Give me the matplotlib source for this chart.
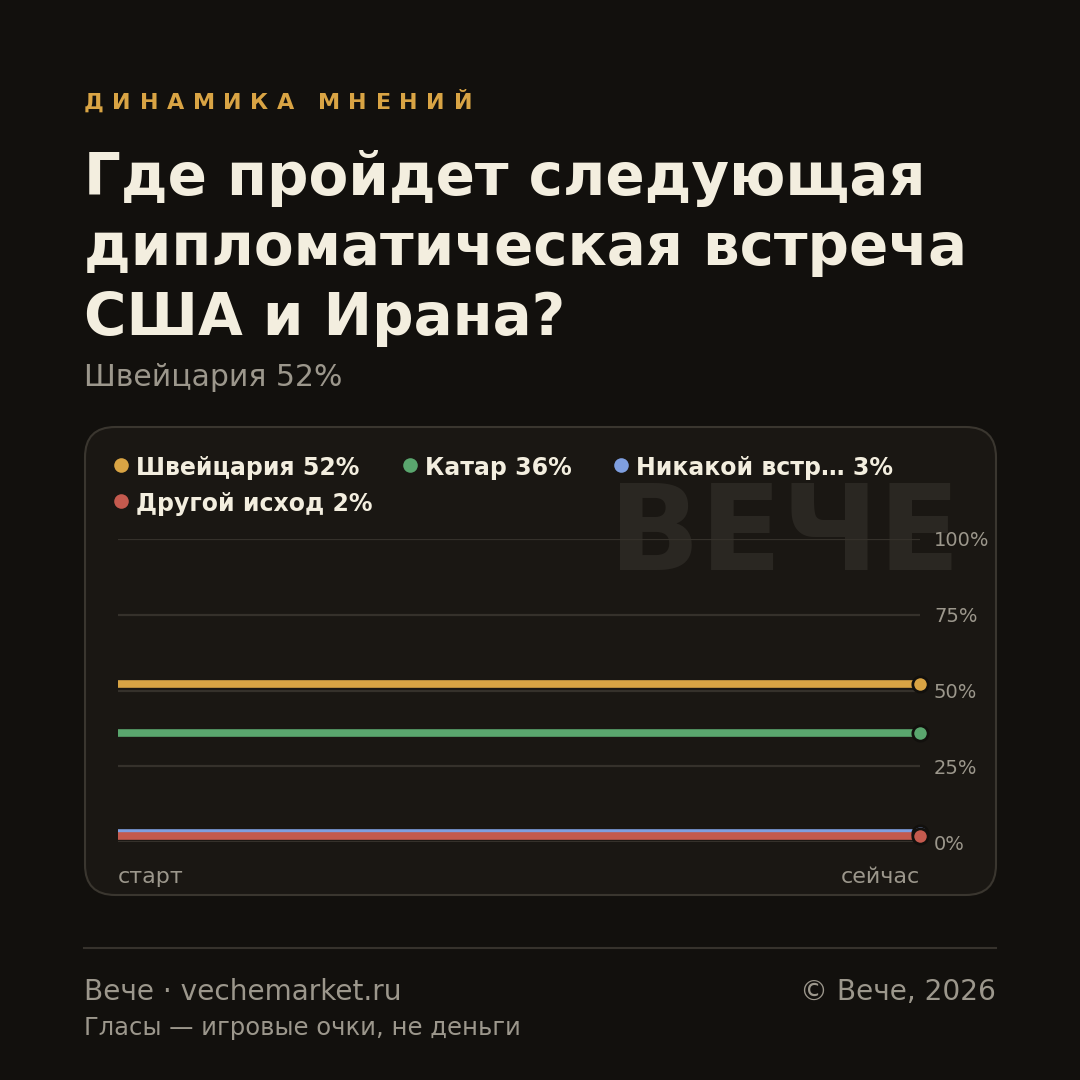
import matplotlib.pyplot as plt
from matplotlib.patches import FancyBboxPatch
from matplotlib.lines import Line2D

# --- data ---
labels = ["Швейцария", "Катар", "Никакой встр…", "Другой исход"]
values_start = [52, 36, 3, 2]
values_now = [52, 36, 3, 2]
colors = ["#d9a444", "#5aa66e", "#7f9fe0", "#c45a4e"]
x_labels = ["старт", "сейчас"]
y_ticks = [0, 25, 50, 75, 100]

BG = "#12100d"
PANEL = "#1a1713"
GRID = "#35312b"
GRAY = "#9c978c"
CREAM = "#f3eedf"
GOLD = "#d9a444"

W = H = 1080
fig = plt.figure(figsize=(10.8, 10.8), dpi=100, facecolor=BG)
plt.rcParams['font.family'] = ['DejaVu Sans']


def fy(y):
    # pixel y from top -> figure fraction
    return 1 - y / H


def fx(x):
    return x / W


# kicker with letter spacing
kicker = "ДИНАМИКА МНЕНИЙ"
renderer = fig.canvas.get_renderer()
chars = []
natural = 0
space_w = 6
for ch in kicker:
    if ch == " ":
        chars.append((ch, None, space_w))
        natural += space_w
        continue
    t = fig.text(0, 0, ch, color=GOLD, fontsize=16, fontweight='bold', ha='left', va='baseline')
    w = t.get_window_extent(renderer=renderer).width
    chars.append((ch, t, w))
    natural += w
tracking = (472 - 84 - natural) / (len(kicker) - 1)
x = 84
for ch, t, w in chars:
    if t is not None:
        t.set_position((fx(x), fy(109)))
    x += w + tracking

# title
title_lines = ["Где пройдет следующая", "дипломатическая встреча", "США и Ирана?"]
for i, line in enumerate(title_lines):
    fig.text(fx(84), fy(195 + 70 * i), line, color=CREAM, fontsize=41.7, fontweight='bold', ha='left', va='baseline')

fig.text(fx(84), fy(386), f"{labels[0]} {values_now[0]}%", color=GRAY, fontsize=21.5, ha='left', va='baseline')

# panel
panel = FancyBboxPatch((fx(85) + 0.028, fy(895) + 0.028), fx(996 - 85) - 0.056, (895 - 427) / H - 0.056,
                       boxstyle="round,pad=0.028", transform=fig.transFigure,
                       facecolor=PANEL, edgecolor="#3a362f", linewidth=1.5, zorder=0)
fig.patches.append(panel)

# watermark
fig.text(fx(960), fy(570), "ВЕЧЕ", color="#2a2722", fontsize=86, fontweight='bold', ha='right', va='baseline', zorder=1)

# legend
legend_pos = [(121, 465), (410, 465), (621, 465), (121, 501)]
for (lx, ly), lab, v, c in zip(legend_pos, labels, values_now, colors):
    fig.add_artist(Line2D([fx(lx)], [fy(ly)], marker='o', markersize=10.5, color=c, markeredgewidth=0,
                          transform=fig.transFigure))
    fig.text(fx(lx + 15), fy(ly), f"{lab} {v}%", color=CREAM, fontsize=17, fontweight='bold', ha='left', va='center_baseline')

# axes
ax = fig.add_axes([fx(118), fy(842), fx(920 - 118), (842 - 539) / H])
ax.set_zorder(2)
ax.set_facecolor('none')
ax.set_xlim(0, 1)
ax.set_ylim(0, 100)
for s in ax.spines.values():
    s.set_visible(False)
ax.set_xticks([])
ax.yaxis.tick_right()
ax.set_yticks(y_ticks)
ax.set_yticklabels([f"{t}%" for t in y_ticks], color=GRAY, fontsize=14)
ax.tick_params(axis='y', length=0, pad=10)
for t in y_ticks:
    ax.axhline(t, color=GRID, linewidth=1.6, zorder=1)

for s0, s1, c in zip(values_start, values_now, colors):
    ax.plot([0, 1], [s0, s1], color=c, linewidth=5.5, solid_capstyle='butt', zorder=3)
for s1, c in zip(values_now, colors):
    ax.plot([1], [s1], marker='o', markersize=11, color=c, markeredgecolor=BG, markeredgewidth=2,
            zorder=4, clip_on=False)

fig.text(fx(118), fy(883), x_labels[0], color=GRAY, fontsize=16, ha='left', va='baseline')
fig.text(fx(920), fy(883), x_labels[1], color=GRAY, fontsize=16, ha='right', va='baseline')

# footer
fig.add_artist(Line2D([fx(84), fx(996)], [fy(948), fy(948)], color="#36322c", linewidth=1.5, transform=fig.transFigure))
fig.text(fx(84), fy(1000), "Вече · vechemarket.ru", color=GRAY, fontsize=20.2, ha='left', va='baseline')
fig.text(fx(996), fy(1000), "© Вече, 2026", color=GRAY, fontsize=20.2, ha='right', va='baseline')
fig.text(fx(84), fy(1035), "Гласы — игровые очки, не деньги", color=GRAY, fontsize=17.5, ha='left', va='baseline')

fig.savefig("out.png", dpi=100, facecolor=BG)
